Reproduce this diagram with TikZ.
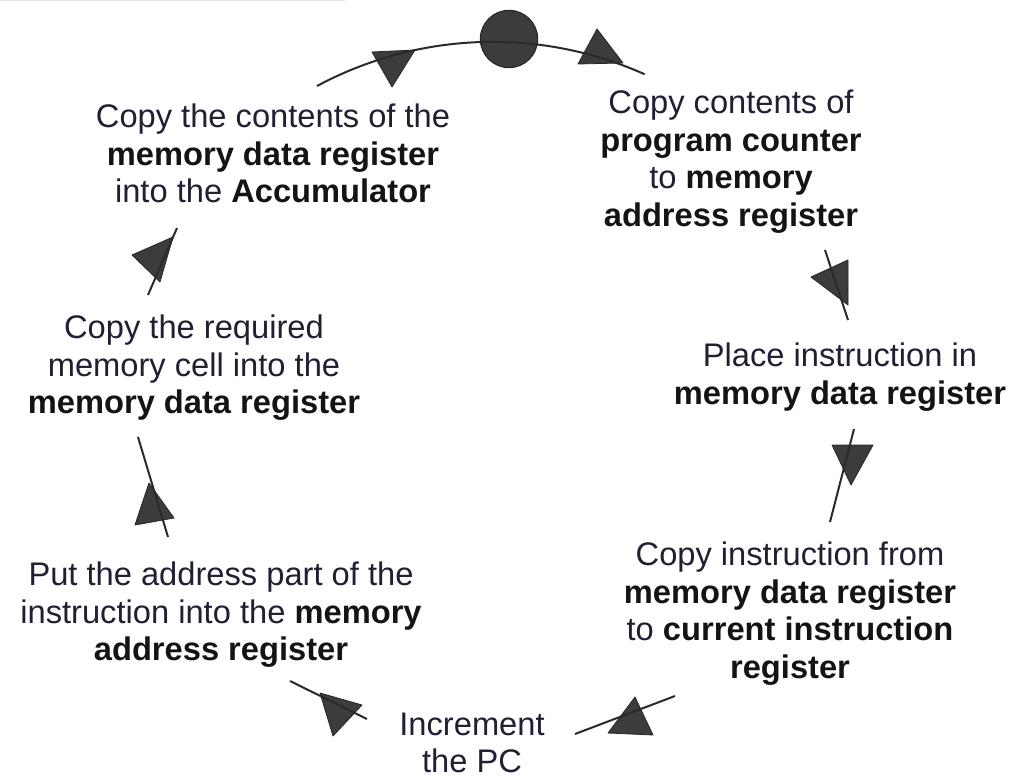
\documentclass[tikz,border=0pt]{standalone}
\usepackage{fontspec}
\setmainfont{Liberation Sans}
\definecolor{txt}{HTML}{241E32}
\definecolor{ink}{HTML}{2A2A2A}
\definecolor{headfill}{HTML}{3C3C3C}
\newcommand{\kw}[1]{\textbf{\color{black!92}#1}}
\tikzset{
  px/.style={x=0.75pt,y=0.75pt},
  stage/.style={align=center, inner sep=0pt, outer sep=0pt, anchor=north,
    text=txt, font=\fontsize{24.5}{28.1}\selectfont},
  flow/.style={draw=ink, line width=1.5pt},
  head/.style={fill=headfill, draw=black!85, line width=0.6pt, line join=round},
  startdot/.style={circle, fill=headfill, draw=black!85, line width=0.8pt,
    minimum size=43pt, inner sep=0pt},
}
\begin{document}
\begin{tikzpicture}[px]
\useasboundingbox (0,0) rectangle (1016,-780);
\draw[draw=black!10, line width=0.75pt] (0,-0.5) -- (345,-0.5);

% the seven stages of the cycle
\node[stage] (accum) at (273,-104) {Copy the contents of the\\ \kw{memory data register}\\ into the \kw{Accumulator}};
\node[stage] (fetchpc) at (731,-90) {Copy contents of\\ \kw{program counter}\\ to \kw{memory}\\ \kw{address register}};
\node[stage] (place) at (840,-343) {Place instruction in\\ \kw{memory data register}};
\node[stage] (tocir) at (790,-542) {Copy instruction from\\ \kw{memory data register}\\ to \kw{current instruction}\\ \kw{register}};
\node[stage] (incpc) at (472,-713) {Increment\\ the PC};
\node[stage] (addr) at (221,-562) {Put the address part of the\\ instruction into the \kw{memory}\\ \kw{address register}};
\node[stage] (readmem) at (194,-315) {Copy the required\\ memory cell into the\\ \kw{memory data register}};

% start point of the cycle
\node[startdot] (start) at (509,-39) {};

% end points of the connecting arcs
\coordinate (arcL) at (317,-86);
\coordinate (aA1) at (825,-250); \coordinate (aA2) at (848,-320);
\coordinate (aB1) at (854,-429); \coordinate (aB2) at (830,-522);
\coordinate (aC1) at (675,-696); \coordinate (aC2) at (575,-734);
\coordinate (aD1) at (367,-719); \coordinate (aD2) at (290,-681);
\coordinate (aE1) at (168,-537); \coordinate (aE2) at (138,-437);
\coordinate (aF1) at (148,-295); \coordinate (aF2) at (177,-228);

% arrow heads
\filldraw[head] (372,-52) -- (415,-50) -- (392,-87) -- cycle;
\filldraw[head] (597,-29) -- (578,-64) -- (623,-63) -- cycle;
\filldraw[head] (811,-277) -- (848,-260) -- (848,-305) -- cycle;
\filldraw[head] (832,-445) -- (873,-445) -- (851,-485) -- cycle;
\filldraw[head] (635,-697) -- (608,-733) -- (653,-735) -- cycle;
\filldraw[head] (320,-693) -- (362,-705) -- (333,-736) -- cycle;
\filldraw[head] (149,-483) -- (135,-525) -- (174,-518) -- cycle;
\filldraw[head] (132,-255) -- (173,-237) -- (160,-282) -- cycle;

% connecting arcs
\draw[flow] (arcL) arc[start angle=118.2, end angle=65.9, radius=279pt];
\draw[flow] (aA1) -- (aA2);
\draw[flow] (aB1) -- (aB2);
\draw[flow] (aC1) -- (aC2);
\draw[flow] (aD1) -- (aD2);
\draw[flow] (aE1) -- (aE2);
\draw[flow] (aF1) -- (aF2);
\end{tikzpicture}
\end{document}
